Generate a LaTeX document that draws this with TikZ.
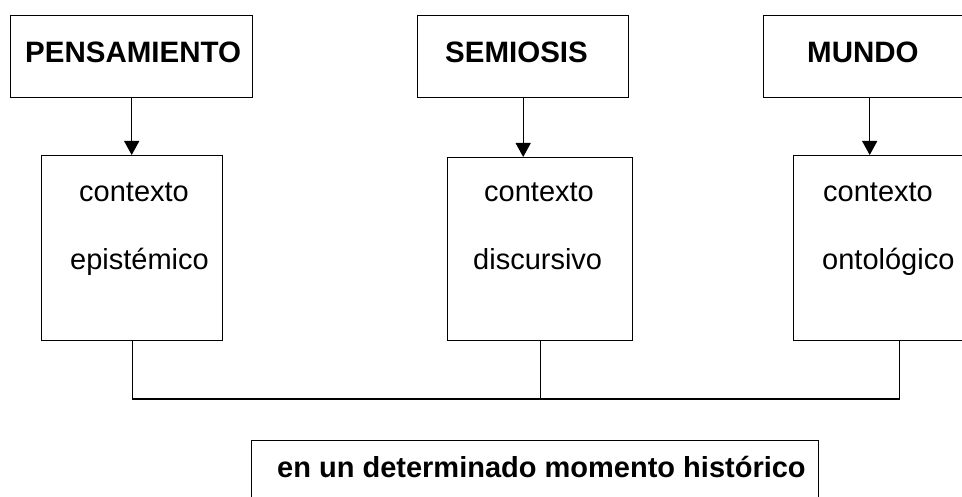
\documentclass[tikz,border=0pt]{standalone}
\usepackage{fontspec}
\setmainfont{Liberation Sans}
\usetikzlibrary{arrows.meta}
\begin{document}
\begin{tikzpicture}[x=1pt,y=-1pt,
  box/.style={draw, line width=1.4pt, inner sep=0pt, anchor=north west},
  head/.style={font=\fontsize{29.5}{34}\selectfont\bfseries, inner sep=0pt, anchor=base west},
  body/.style={font=\fontsize{29}{34}\selectfont, inner sep=0pt, anchor=base west},
  bodyb/.style={font=\fontsize{29}{34}\selectfont\bfseries, inner sep=0pt, anchor=base west},
  conn/.style={line width=1.4pt},
  arr/.style={line width=1.4pt, -{Triangle[width=15pt,length=14pt]}}
]
\useasboundingbox (0,0) rectangle (962,497);
\clip (0,0) rectangle (962,497);
% top boxes
\node[box, minimum width=242pt, minimum height=82pt] (p) at (10,15) {};
\node[box, minimum width=211pt, minimum height=82pt] (s) at (417,15) {};
\node[box, minimum width=212pt, minimum height=82pt] (m) at (763,15) {};
\node[head] (pt) at (25,63) {PENSAMIENTO};
\node[head] (st) at (445,63) {SEMIOSIS};
\node[head] (mt) at (807,63) {MUNDO};
% context boxes
\node[box, minimum width=181pt, minimum height=185pt] (ce) at (41,155) {};
\node[box, minimum width=185pt, minimum height=183pt] (cd) at (447,157) {};
\node[box, minimum width=212pt, minimum height=185pt] (co) at (793,155) {};
\node[body] (ce1) at (79,202) {contexto};
\node[body] (ce2) at (70,270) {epistémico};
\node[body] (cd1) at (484,202) {contexto};
\node[body] (cd2) at (473,270) {discursivo};
\node[body] (co1) at (823,202) {contexto};
\node[body] (co2) at (822,270) {ontológico};
% arrows
\draw[arr] (p.south) -- (p.south |- ce.north);
\draw[arr] (s.south) -- (s.south |- cd.north);
\draw[arr] (m.south) -- (m.south |- co.north);
% joining lines
\coordinate (j) at (0,399);
\draw[conn] (ce.south) -- (ce.south |- j) -| (co.south);
\draw[conn] (cd.south) -- (cd.south |- j);
% bottom box
\node[box, minimum width=567pt, minimum height=100pt] (h) at (251,440) {};
\node[bodyb] (ht) at (277,477) {en un determinado momento histórico};
\end{tikzpicture}
\end{document}
